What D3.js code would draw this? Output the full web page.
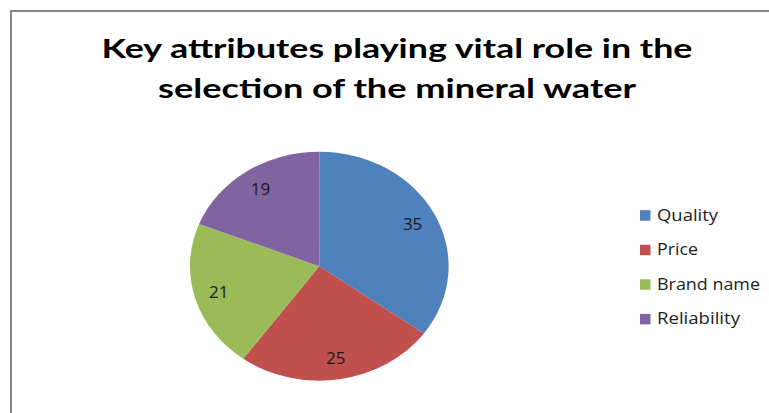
<!DOCTYPE html>
<html>
<head>
<meta charset="utf-8">
<script src="https://cdn.jsdelivr.net/npm/d3@7"></script>
<style>
  html, body { margin: 0; padding: 0; background: #fff; overflow: hidden; }
  svg { display: block; }
</style>
</head>
<body>
<svg id="chart" width="769" height="413"></svg>
<script>
// Survey results: attributes that matter when choosing mineral water
const categories = ["Quality", "Price", "Brand name", "Reliability"];
const values = [35, 25, 21, 19];
const colors = ["#4F81BD", "#C0504D", "#9BBB59", "#8064A2"];
const titleLines = ["Key attributes playing vital role in the", "selection of the mineral water"];

const svg = d3.select("#chart");
const font = "'Open Sans', 'Liberation Sans', sans-serif";
const titleFont = "Lato, 'Open Sans', sans-serif";

// Chart frame (extends past the bottom/right edges)
svg.append("rect")
  .attr("x", 11).attr("y", 11)
  .attr("width", 800).attr("height", 450)
  .attr("fill", "#fff")
  .attr("stroke", "#878787")
  .attr("stroke-width", 2);

// Title
const titleWidths = [591, 478];
svg.append("g").selectAll("text")
  .data(titleLines)
  .join("text")
  .attr("x", 397)
  .attr("y", (d, i) => 58.3 + i * 39.5)
  .attr("text-anchor", "middle")
  .attr("font-family", titleFont)
  .attr("font-weight", "bold")
  .attr("font-size", 27.5)
  .attr("fill", "#000")
  .attr("textLength", (d, i) => titleWidths[i])
  .attr("lengthAdjust", "spacingAndGlyphs")
  .text(d => d);

// Pie, drawn as a circle then flattened vertically into an ellipse
const cx = 319.3, cy = 266.2, rx = 129.3, ry = 114.5;
const pie = d3.pie().sort(null).value(d => d)(values);
const arc = d3.arc().innerRadius(0).outerRadius(rx);

const pieG = svg.append("g")
  .attr("transform", `translate(${cx},${cy}) scale(1,${ry / rx})`);
pieG.selectAll("path")
  .data(pie)
  .join("path")
  .attr("d", arc)
  .attr("fill", (d, i) => colors[i]);

// Value labels placed at ~81% of the radius along each slice's mid-angle
const labelArc = d3.arc().innerRadius(rx * 0.81).outerRadius(rx * 0.81);
svg.append("g")
  .attr("transform", `translate(${cx},${cy})`)
  .selectAll("text")
  .data(pie)
  .join("text")
  .attr("x", d => labelArc.centroid(d)[0])
  .attr("y", d => labelArc.centroid(d)[1] * ry / rx)
  .attr("dy", "0.35em")
  .attr("text-anchor", "middle")
  .attr("font-family", font)
  .attr("font-size", 17)
  .attr("fill", "#1a1a1a")
  .text(d => d.data);

// Legend
const legendWidths = [61, 41, 103, 83];
const legend = svg.append("g").attr("transform", "translate(640,220.7)");
const rows = legend.selectAll("g")
  .data(categories)
  .join("g")
  .attr("transform", (d, i) => `translate(0,${i * 34.55})`);
rows.append("rect")
  .attr("x", 0).attr("y", -10.5)
  .attr("width", 10.5).attr("height", 10.5)
  .attr("fill", (d, i) => colors[i]);
rows.append("text")
  .attr("x", 17).attr("y", 0)
  .attr("font-family", font)
  .attr("font-size", 16.4)
  .attr("fill", "#222")
  .attr("textLength", (d, i) => legendWidths[i])
  .attr("lengthAdjust", "spacingAndGlyphs")
  .text(d => d);
</script>
</body>
</html>
